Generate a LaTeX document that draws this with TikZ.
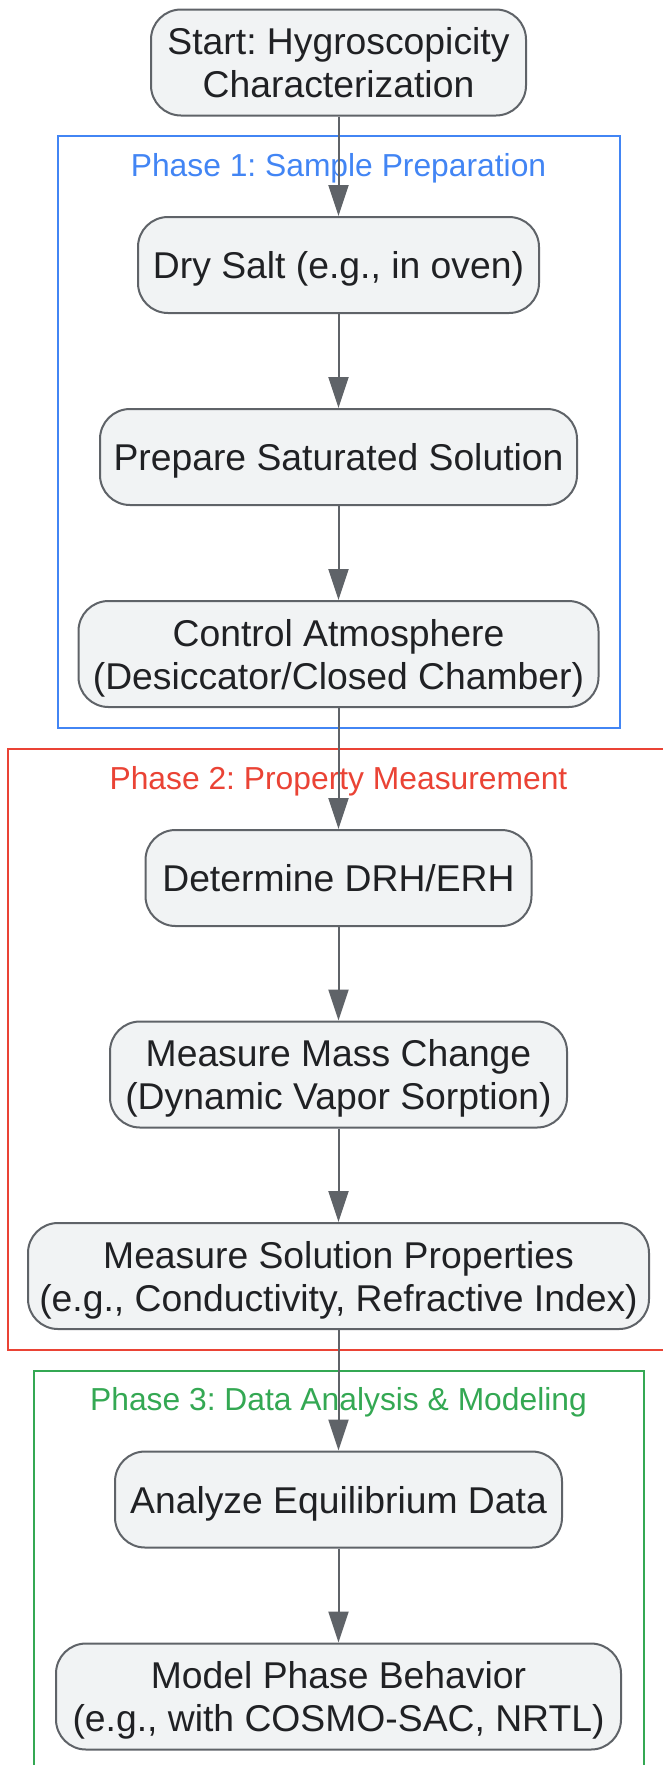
\documentclass[tikz,border=0pt]{standalone}
\usepackage{fontspec}
\setmainfont{Liberation Sans}
\usetikzlibrary{arrows.meta}
\definecolor{nodefill}{HTML}{F1F3F4}
\definecolor{nodeline}{HTML}{5F6368}
\definecolor{nodetext}{HTML}{202124}
\definecolor{phaseblue}{HTML}{4285F4}
\definecolor{phasered}{HTML}{EA4335}
\definecolor{phasegreen}{HTML}{34A853}
\frenchspacing

\begin{document}
\begin{tikzpicture}[x=1pt,y=-1pt,
stepbox/.style={draw=nodeline,fill=nodefill,line width=2pt,rounded corners=30pt,
  text=nodetext,align=center,inner xsep=6pt,inner ysep=4pt,text depth=0pt,
  font=\fontsize{37.3}{43}\selectfont,minimum height=96pt},
twoline/.style={stepbox,minimum height=106pt},
phase/.style={line width=2pt},
phaselabel/.style={font=\fontsize{31.8}{38}\selectfont},
flow/.style={draw=nodeline,line width=2pt,-{Triangle[length=31pt,width=20pt]}}
]
\useasboundingbox (0,0) rectangle (663,1765);
\clip (0,0) rectangle (663,1765);

% phases
\draw[phase,draw=phaseblue] (58,136) rectangle (619.5,727.7);
\draw[phase,draw=phasered] (7.6,748.7) rectangle (690,1350);
\draw[phase,draw=phasegreen] (33.8,1370.7) rectangle (643.5,1800);
\node[phaselabel,text=phaseblue] (lab1) at (338.5,168) {Phase 1: Sample Preparation};
\node[phaselabel,text=phasered] (lab2) at (338.5,781) {Phase 2: Property Measurement};
\node[phaselabel,text=phasegreen] (lab3) at (338.5,1402.7) {Phase 3: Data Analysis \& Modeling};

% steps
\node[twoline,minimum width=375pt] (start) at (338.5,62.5) {Start: Hygroscopicity\\Characterization};
\node[stepbox,minimum width=401pt] (dry) at (338.5,265) {Dry Salt (e.g., in oven)};
\node[stepbox,minimum width=477pt] (prep) at (338.5,457) {Prepare Saturated Solution};
\node[twoline,minimum width=520pt] (control) at (338.5,654) {Control Atmosphere\\(Desiccator/Closed Chamber)};
\node[stepbox,minimum width=386pt] (drh) at (338.5,878) {Determine DRH/ERH};
\node[twoline,minimum width=457pt] (mass) at (338.5,1074.5) {Measure Mass Change\\(Dynamic Vapor Sorption)};
\node[twoline,minimum width=621pt] (props) at (338.5,1276) {Measure Solution Properties\\(e.g., Conductivity, Refractive Index)};
\node[stepbox,minimum width=447pt] (analyze) at (338.5,1499.5) {Analyze Equilibrium Data};
\node[twoline,minimum width=565pt] (model) at (338.5,1696.5) {Model Phase Behavior\\(e.g., with COSMO-SAC, NRTL)};

% connectors
\draw[flow] (start) -- (dry);
\draw[flow] (dry) -- (prep);
\draw[flow] (prep) -- (control);
\draw[flow] (control) -- (drh);
\draw[flow] (drh) -- (mass);
\draw[flow] (mass) -- (props);
\draw[flow] (props) -- (analyze);
\draw[flow] (analyze) -- (model);
\end{tikzpicture}
\end{document}
